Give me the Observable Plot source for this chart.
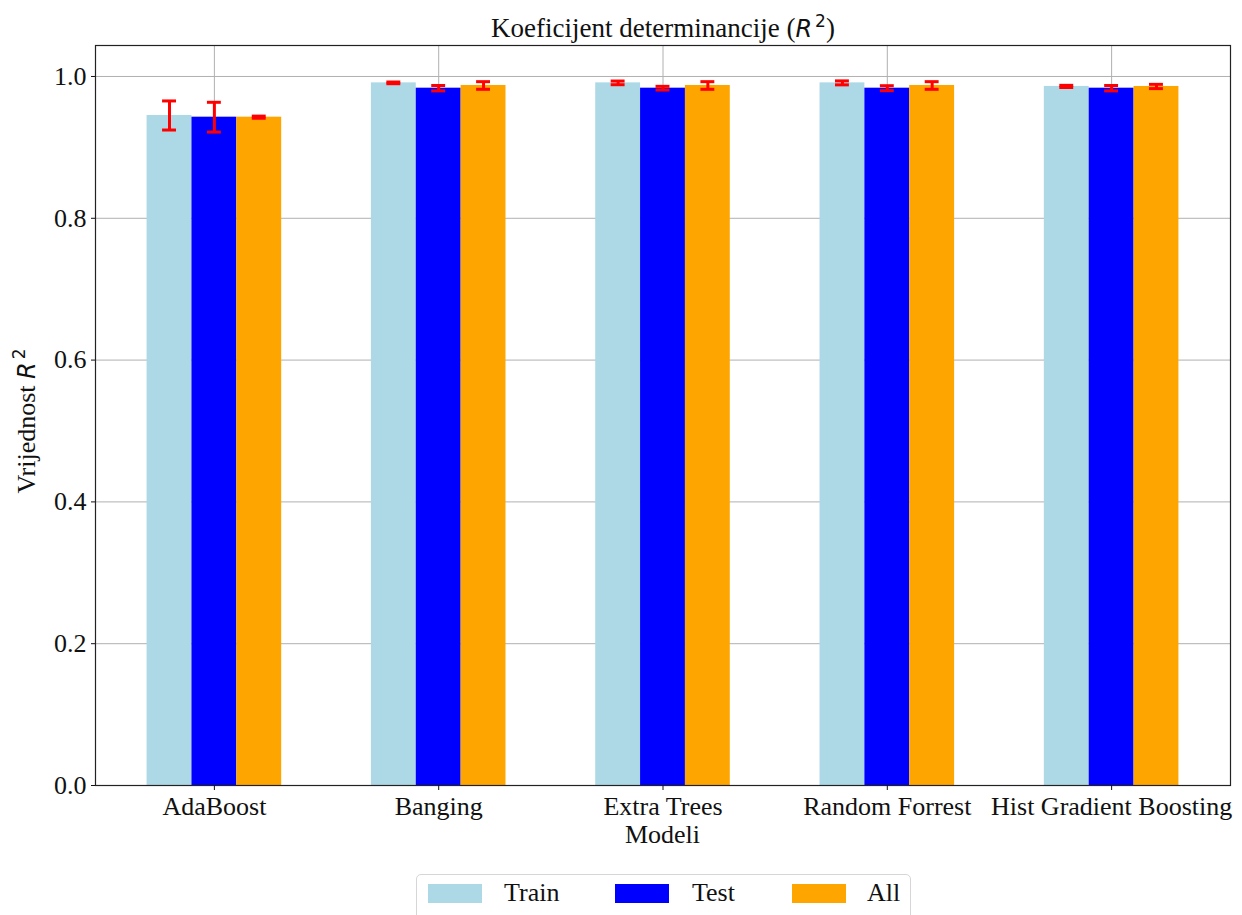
<!DOCTYPE html>
<html>
<head>
<meta charset="utf-8">
<script src="https://cdn.jsdelivr.net/npm/d3@7"></script>
<script src="https://cdn.jsdelivr.net/npm/@observablehq/plot@0.6"></script>
<style>
  html, body { margin: 0; padding: 0; background: white; }
  #wrap { position: relative; width: 1242px; height: 915px; overflow: hidden; font-family: "Liberation Serif", "Times New Roman", serif; }
  #legend { position: absolute; left: 416px; top: 874px; width: 495px; height: 60px; border: 1px solid #d6d6d6; border-radius: 5px; background: white; box-sizing: border-box; }
  .sw { position: absolute; top: 9px; width: 54px; height: 19px; }
  .lt { position: absolute; top: 3px; font-size: 26px; line-height: 30px; color: #111; }
</style>
</head>
<body>
<div id="wrap"></div>
<script>
const models = ["AdaBoost", "Banging", "Extra Trees", "Random Forrest", "Hist Gradient Boosting"];
const seriesNames = ["Train", "Test", "All"];
const seriesColors = ["#add8e6", "#0000ff", "#ffa500"];

const trainMean = [0.945, 0.991, 0.991, 0.991, 0.986];
const trainErr  = [0.0205, 0.0012, 0.0026, 0.0028, 0.0015];
const testMean  = [0.9426, 0.9835, 0.9835, 0.9835, 0.9835];
const testErr   = [0.021, 0.0038, 0.0026, 0.0035, 0.0038];
const allMean   = [0.9426, 0.9873, 0.9873, 0.9873, 0.9859];
const allErr    = [0.0015, 0.0054, 0.0054, 0.0054, 0.003];
const yTicks = [0, 0.2, 0.4, 0.6, 0.8, 1.0];

const means = [trainMean, testMean, allMean];
const errs = [trainErr, testErr, allErr];
const barW = 0.2;
const capHalf = 0.031;

const rows = models.flatMap((m, i) => seriesNames.map((s, j) => ({
  model: m, i, series: s, j,
  pos: i + (j - 1) * barW,
  value: means[j][i],
  err: errs[j][i]
})));

const plot = Plot.plot({
  width: 1242,
  height: 915,
  marginLeft: 95,
  marginRight: 12,
  marginTop: 45,
  marginBottom: 130,
  style: { fontFamily: "Liberation Serif, Times New Roman, serif", fontSize: "26px", background: "white", color: "#111" },
  x: { type: "linear", domain: [-0.53, 4.53] },
  y: { domain: [0, 1.0437] },
  color: { domain: seriesNames, range: seriesColors },
  marks: [
    Plot.gridY(yTicks, { stroke: "#b0b0b0", strokeOpacity: 1, strokeWidth: 1 }),
    Plot.gridX(d3.range(models.length), { stroke: "#b0b0b0", strokeOpacity: 1, strokeWidth: 1 }),
    Plot.rectY(rows, { x1: d => d.pos - barW / 2, x2: d => d.pos + barW / 2, y1: 0, y2: "value", fill: "series", inset: 0 }),
    Plot.ruleX(rows, { x: "pos", y1: d => d.value - d.err, y2: d => d.value + d.err, stroke: "red", strokeWidth: 3 }),
    Plot.ruleY(rows, { y: d => d.value - d.err, x1: d => d.pos - capHalf, x2: d => d.pos + capHalf, stroke: "red", strokeWidth: 3 }),
    Plot.ruleY(rows, { y: d => d.value + d.err, x1: d => d.pos - capHalf, x2: d => d.pos + capHalf, stroke: "red", strokeWidth: 3 }),
    Plot.frame({ stroke: "#222", strokeWidth: 1.2 }),
    Plot.axisY(yTicks, { tickFormat: d3.format(".1f"), tickSize: 4, tickPadding: 5, label: null, fontSize: 26 }),
    Plot.axisX(d3.range(models.length), { tickFormat: i => models[i], tickSize: 5, tickPadding: 6, label: null, fontSize: 26 })
  ]
});

document.getElementById("wrap").appendChild(plot);

const svg = d3.select(plot);
// Title
const title = svg.append("text")
  .attr("x", 663).attr("y", 37)
  .attr("text-anchor", "middle")
  .attr("font-size", 27)
  .attr("fill", "#111")
  .attr("font-family", "Liberation Serif, serif");
title.append("tspan").text("Koeficijent determinancije (");
title.append("tspan").attr("font-family", "DejaVu Sans").attr("font-style", "italic").attr("font-size", 24).text("R");
title.append("tspan").attr("font-family", "DejaVu Sans").attr("font-size", 17).attr("dy", -10).attr("dx", 3).text("2");
title.append("tspan").attr("dy", 10).text(")");

// X label
svg.append("text")
  .attr("x", 662.5).attr("y", 843)
  .attr("text-anchor", "middle")
  .attr("font-size", 26)
  .attr("fill", "#111")
  .attr("font-family", "Liberation Serif, serif")
  .text("Modeli");

// Y label
const ylab = svg.append("text")
  .attr("transform", "translate(35,421) rotate(-90)")
  .attr("text-anchor", "middle")
  .attr("font-size", 26)
  .attr("fill", "#111")
  .attr("font-family", "Liberation Serif, serif");
ylab.append("tspan").text("Vrijednost ");
ylab.append("tspan").attr("font-family", "DejaVu Sans").attr("font-style", "italic").attr("font-size", 24).text("R");
ylab.append("tspan").attr("font-family", "DejaVu Sans").attr("font-size", 17).attr("dy", -10).attr("dx", 3).text("2");

// Legend
const legend = document.createElement("div");
legend.id = "legend";
const swX = [11, 198, 375];
const txX = [87, 275, 450];
seriesNames.forEach((s, j) => {
  const sw = document.createElement("div");
  sw.className = "sw";
  sw.style.left = swX[j] + "px";
  sw.style.background = seriesColors[j];
  legend.appendChild(sw);
  const t = document.createElement("div");
  t.className = "lt";
  t.style.left = txX[j] + "px";
  t.textContent = s;
  legend.appendChild(t);
});
document.getElementById("wrap").appendChild(legend);
</script>
</body>
</html>
